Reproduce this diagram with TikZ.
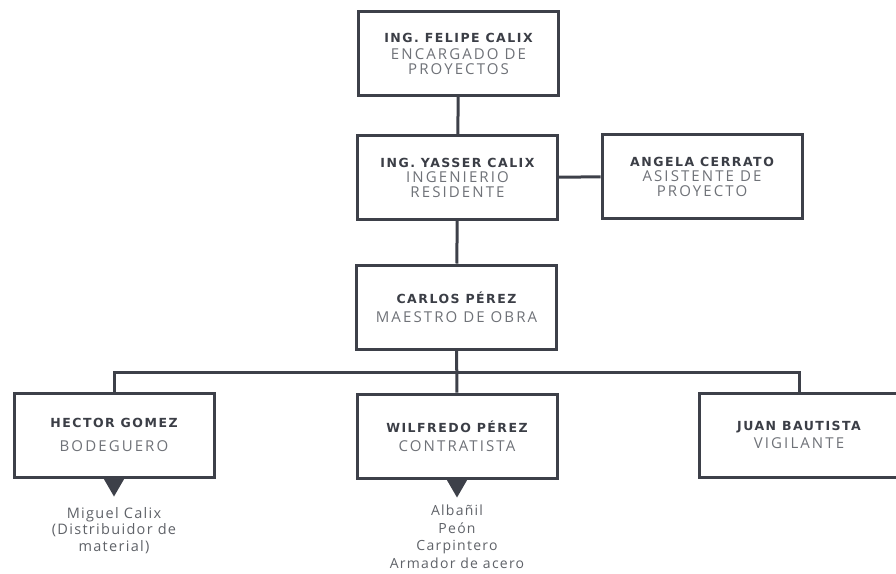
\documentclass[tikz,border=0pt]{standalone}
\usepackage{fontspec}
\setmainfont{Open Sans}
\newfontfamily\titlefnt[LetterSpace=12]{DejaVu Sans}
\newfontfamily\rolefnt[LetterSpace=14]{Open Sans}
\newfontfamily\crewfnt[LetterSpace=9]{Open Sans}
\usepackage{tikz}
\usetikzlibrary{positioning}
\definecolor{framegray}{HTML}{3D4049}
\definecolor{titlegray}{HTML}{3B3E46}
\definecolor{rolegray}{HTML}{6F7278}
\definecolor{lowgray}{HTML}{5F6268}
\newcommand{\whoname}[1]{\textcolor{titlegray}{\titlefnt\bfseries\fontsize{12.5}{15}\selectfont #1}}
\newcommand{\whorole}[1]{\textcolor{rolegray}{\rolefnt\fontsize{15}{15}\selectfont #1}}

\begin{document}
\begin{tikzpicture}[x=1pt,y=-1pt,line width=3pt,
    post/.style={draw=framegray,fill=white,minimum width=200pt,minimum height=84pt,align=center,font=\fontsize{14}{15}\selectfont,inner sep=0pt},
    link/.style={draw=framegray},
    under/.style={align=center,text=lowgray,font=\crewfnt\fontsize{14.5}{16.5}\selectfont}]
  \useasboundingbox (0,0) rectangle (896,573);
  % top of the chart
  \node[post] (felipe) at (458.5,53.5) {\whoname{ING. FELIPE CALIX}\\[2pt]\whorole{ENCARGADO DE}\\\whorole{PROYECTOS}};
  \node[post] (yasser) at (457.5,177.5) {\whoname{ING. YASSER CALIX}\\\whorole{INGENIERIO}\\\whorole{RESIDENTE}};
  \node[post] (angela) at (702,176.5) {\whoname{ANGELA CERRATO}\\\whorole{ASISTENTE DE}\\\whorole{PROYECTO}};
  \node[post,font=\fontsize{14}{19}\selectfont] (carlos) at (456.5,307) {\whoname{CARLOS PÉREZ}\\\whorole{MAESTRO DE OBRA}};
  % bottom row
  \node[post,font=\fontsize{14}{24}\selectfont] (hector) at (114,435) {\whoname{HECTOR GOMEZ}\\\whorole{BODEGUERO}};
  \node[post,font=\fontsize{14}{19}\selectfont] (wilfredo) at (457,436) {\whoname{WILFREDO PÉREZ}\\\whorole{CONTRATISTA}};
  \node[post,font=\fontsize{14}{18}\selectfont] (juan) at (799,435) {\whoname{JUAN BAUTISTA}\\\whorole{VIGILANTE}};
  \coordinate (bus) at (457,372);
  \draw[link] (felipe) -- (yasser);
  \draw[link] (yasser) -- (angela);
  \draw[link] (yasser) -- (carlos);
  \draw[link] (carlos) -- (wilfredo);
  \draw[link] (hector.north) |- (bus) -| (juan.north);
  % pointers and the people below
  \foreach \b in {hector,wilfredo}
    \fill[framegray] (\b.south) ++(-11,-1) -- ++(22,0) -- ++(-11,19) -- cycle;
  \node[under,below=24pt of hector.south] (miguel) {Miguel Calix\\(Distribuidor de\\material)};
  \node[under,below=21pt of wilfredo.south,font=\crewfnt\fontsize{14}{17.5}\selectfont] (crew) {Albañil\\Peón\\Carpintero\\Armador de acero};
\end{tikzpicture}
\end{document}
